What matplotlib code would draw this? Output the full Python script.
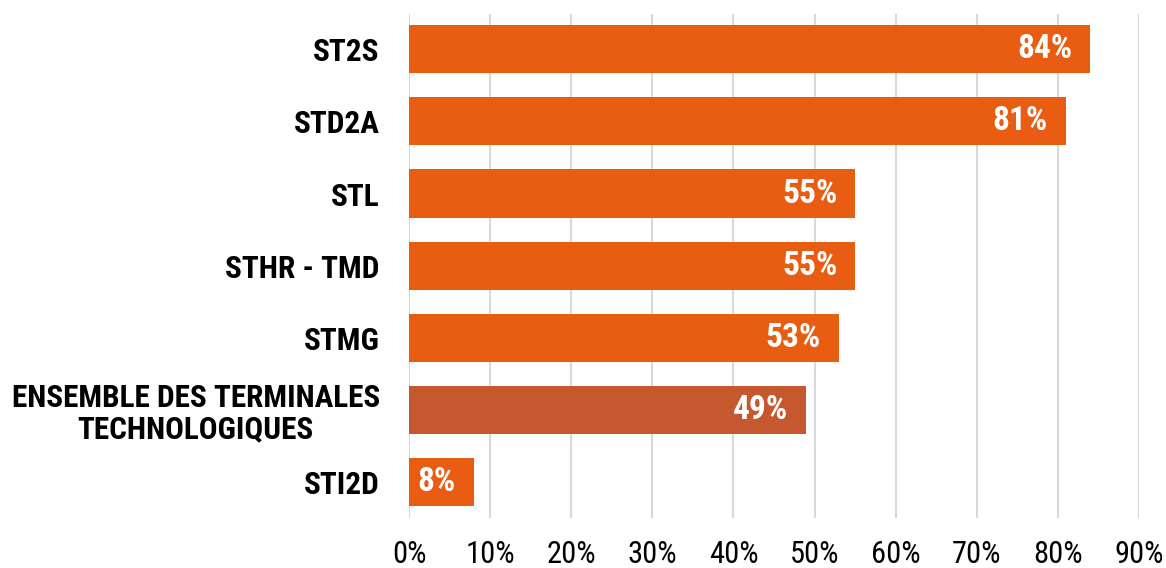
import matplotlib.pyplot as plt
from matplotlib.ticker import PercentFormatter

categories = ['ST2S', 'STD2A', 'STL', 'STHR - TMD', 'STMG',
              'ENSEMBLE DES TERMINALES\nTECHNOLOGIQUES', 'STI2D']
values = [84, 81, 55, 55, 53, 49, 8]
highlight = 'ENSEMBLE DES TERMINALES\nTECHNOLOGIQUES'

orange = '#E85D12'
dark_orange = '#C5582E'
narrow = ['Roboto Condensed', 'Barlow Semi Condensed', 'DejaVu Sans']

fig = plt.figure(figsize=(11.66, 5.68), dpi=100)
ax = fig.add_axes([0.3508, 0.088, 0.626, 0.8874])

colors = [dark_orange if c == highlight else orange for c in categories]
pos = list(range(len(categories)))
ax.barh(pos, values, height=0.667, color=colors, zorder=2)

for y, v in zip(pos, values):
    ax.text(v - 2.2, y, f'{v}%', ha='right', va='center', color='white',
            fontsize=24, fontweight='bold', family=narrow, zorder=3)

ax.set_xlim(0, 90)
ax.set_ylim(len(categories) - 0.5, -0.49)
ax.set_xticks(range(0, 91, 10))
ax.xaxis.set_major_formatter(PercentFormatter(decimals=0))
ax.set_yticks(pos)
ax.set_yticklabels(categories)
ax.grid(axis='x', color='#D9D9D9', linewidth=1.5, zorder=0)
ax.tick_params(axis='both', length=0)
ax.tick_params(axis='x', pad=16)
ax.tick_params(axis='y', pad=21)

for lab in ax.get_xticklabels():
    lab.set_family(narrow)
    lab.set_fontsize(22)
for lab in ax.get_yticklabels():
    lab.set_family(narrow)
    lab.set_fontsize(22.5)
    lab.set_fontweight('bold')
    lab.set_multialignment('center')
    lab.set_linespacing(1.05)

for s in ax.spines.values():
    s.set_visible(False)

fig.savefig('out.png', dpi=100)
